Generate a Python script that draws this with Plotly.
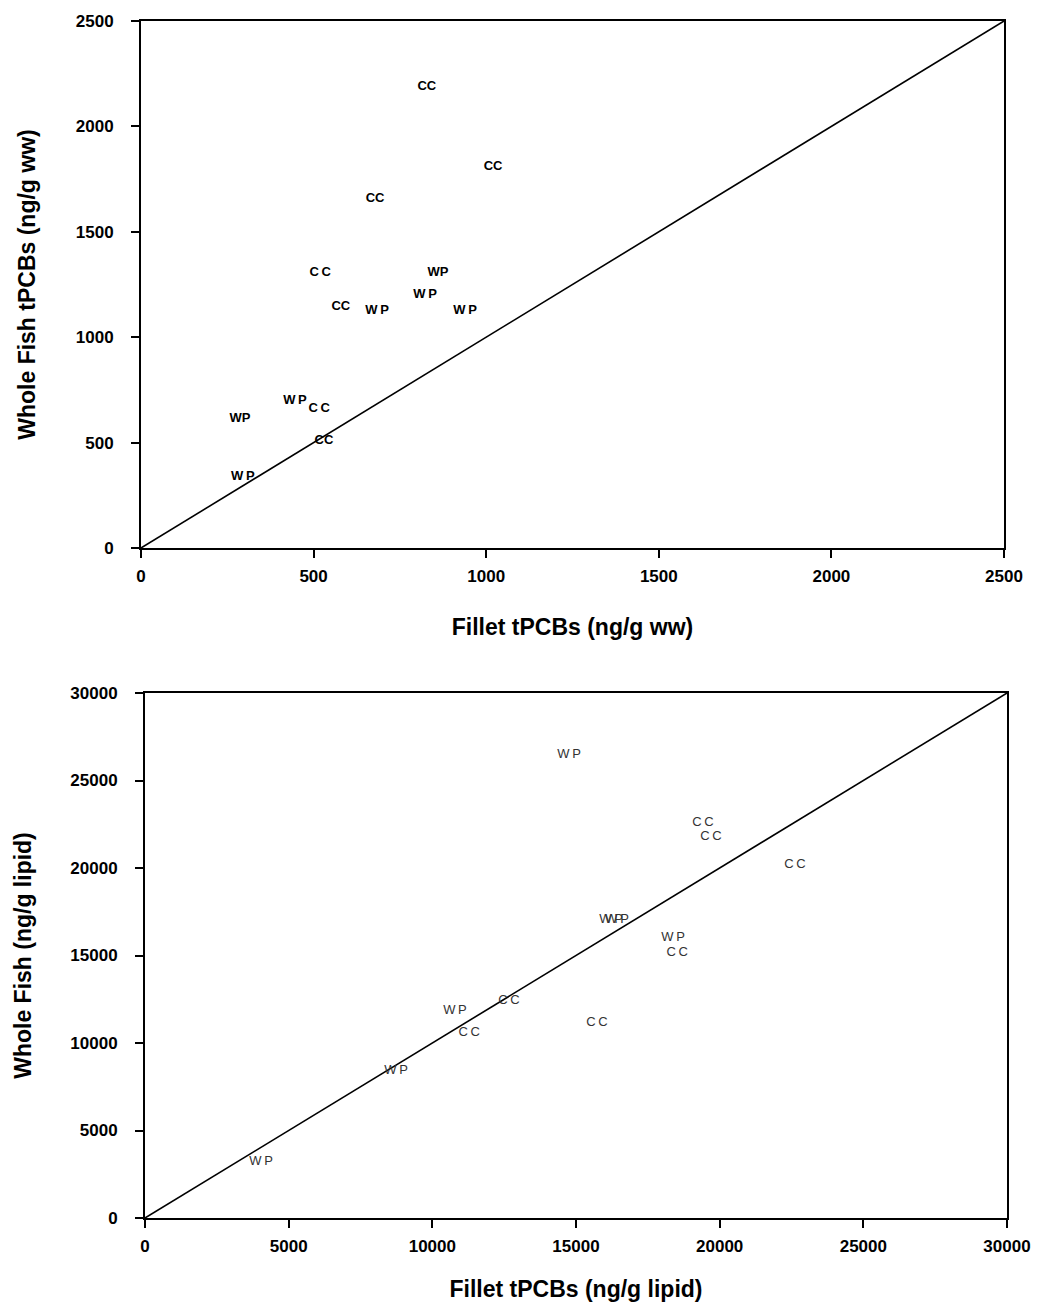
import plotly.graph_objects as go

# page offset (default body margin) compensated so the axes land where the reference has them
OFF = 8
W, H = 1043 - 2 * OFF, 1310 - 2 * OFF

# Top panel: wet-weight basis (ng/g ww)
ww_species = ["CC", "CC", "CC", "C C", "WP", "W P", "CC", "W P", "W P", "WP", "W P", "C C", "CC", "W P"]
ww_fillet = [828, 1020, 678, 519, 860, 823, 579, 684, 939, 287, 446, 516, 530, 295]
ww_whole = [2187, 1807, 1656, 1305, 1305, 1200, 1143, 1124, 1124, 612, 697, 659, 508, 337]

# Bottom panel: lipid-normalized basis (ng/g lipid)
lip_species = ["WP", "CC", "CC", "CC", "WP", "WP", "WP", "CC", "WP", "CC", "CC", "CC", "WP", "WP"]
lip_fillet = [14760, 19420, 19700, 22620, 16220, 16430, 18380, 18520, 10790, 12670, 11280, 15730, 8740, 4040]
lip_whole = [26460, 22570, 21770, 20170, 17030, 17030, 16000, 15140, 11830, 12400, 10570, 11140, 8400, 3200]

ww_range = [0, 2500]
lip_range = [0, 30000]
ww_ticks = [0, 500, 1000, 1500, 2000, 2500]
lip_ticks = [0, 5000, 10000, 15000, 20000, 25000, 30000]

FONT = "Liberation Sans, Arial, sans-serif"


def px_x(p):
    return (p - OFF) / W


def px_y(p):
    return 1 - (p - OFF) / H


fig = go.Figure()

fig.add_trace(go.Scatter(x=ww_range, y=ww_range, mode="lines",
                         line=dict(color="black", width=1.6),
                         xaxis="x", yaxis="y", showlegend=False, hoverinfo="skip"))
fig.add_trace(go.Scatter(x=ww_fillet, y=ww_whole, mode="text",
                         text=[s.replace(" ", "\u2009") for s in ww_species],
                         textfont=dict(family=FONT, size=13, color="black", weight="bold"),
                         textposition="middle center",
                         xaxis="x", yaxis="y", showlegend=False))

fig.add_trace(go.Scatter(x=lip_range, y=lip_range, mode="lines",
                         line=dict(color="black", width=1.6),
                         xaxis="x2", yaxis="y2", showlegend=False, hoverinfo="skip"))
fig.add_trace(go.Scatter(x=lip_fillet, y=lip_whole, mode="text",
                         text=[s[0] + "\u2009" + s[1] for s in lip_species],
                         textfont=dict(family=FONT, size=13, color="#333"),
                         textposition="middle center",
                         xaxis="x2", yaxis="y2", showlegend=False))

axis_common = dict(
    showgrid=False, zeroline=False, showline=True, linecolor="black", linewidth=2,
    mirror=True, ticks="outside", ticklen=8, tickwidth=1.5, tickcolor="black",
    tickfont=dict(family=FONT, size=17, color="black", weight="bold"),
    automargin=False,
)
title_font = dict(family=FONT, size=23, color="black", weight="bold")

fig.update_layout(
    width=W, height=H,
    margin=dict(l=0, r=0, t=0, b=0),
    plot_bgcolor="white", paper_bgcolor="white",
    xaxis=dict(domain=[px_x(141), px_x(1004)], range=ww_range, tickvals=ww_ticks,
               ticktext=[str(v) for v in ww_ticks], ticklabelstandoff=4,
               title=dict(text="Fillet tPCBs (ng/g ww)", font=title_font, standoff=33),
               anchor="y", **axis_common),
    yaxis=dict(domain=[px_y(548), px_y(21)], range=ww_range, tickvals=ww_ticks,
               ticktext=[str(v) for v in ww_ticks], ticklabelstandoff=14,
               title=dict(text="Whole Fish tPCBs (ng/g ww)", font=title_font, standoff=34),
               anchor="x", **axis_common),
    xaxis2=dict(domain=[px_x(145), px_x(1007)], range=lip_range, tickvals=lip_ticks,
                ticktext=[str(v) for v in lip_ticks], ticklabelstandoff=4,
                title=dict(text="Fillet tPCBs (ng/g lipid)", font=title_font, standoff=36),
                anchor="y2", **axis_common),
    yaxis2=dict(domain=[px_y(1218), px_y(693)], range=lip_range, tickvals=lip_ticks,
                ticktext=[str(v) for v in lip_ticks], ticklabelstandoff=14,
                title=dict(text="Whole Fish (ng/g lipid)", font=title_font, standoff=32),
                anchor="x2", **axis_common),
)

fig.write_html("out.html")
